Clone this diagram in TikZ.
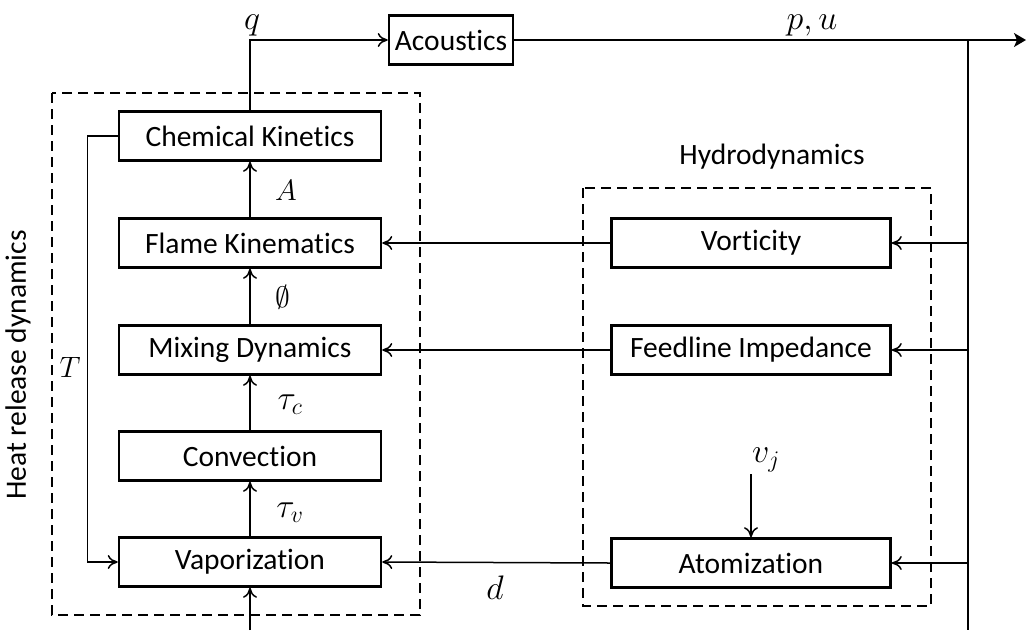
\RequirePackage{fix-cm}
\documentclass[tikz,border=0pt]{standalone}
\usepackage{fontspec}
\setmainfont{Carlito}[Ligatures={NoCommon,NoRare,NoContextual}]
\usetikzlibrary{arrows.meta}
\begin{document}
\begin{tikzpicture}[x=1pt,y=-1pt,
  box/.style={draw,line width=2.6pt,minimum width=262pt,minimum height=49pt,inner sep=0pt,font=\fontsize{29.5}{34}\selectfont},
  lbl/.style={font=\fontsize{29.5}{34}\selectfont,inner sep=0pt},
  mlbl/.style={font=\fontsize{34}{38}\selectfont,inner sep=0pt},
  conn/.style={line width=1.5pt},
  arr/.style={conn,-{Computer Modern Rightarrow[length=10pt,width=14pt]}},
  outarr/.style={conn,-{Stealth[length=12pt,width=14pt,inset=3pt]}},
  grp/.style={line width=1.5pt,dash pattern=on 10pt off 6pt}]
\useasboundingbox (0,0) rectangle (1027,630);
% group frames
\draw[grp] (52,93) rectangle (420,615);
\draw[grp] (583,188) rectangle (931,606);
\node[lbl,rotate=90] (hrd) at (18,365) {Heat release dynamics};
\node[lbl] (hyd) at (772,157) {Hydrodynamics};
% boxes
\node[box,minimum width=124pt] (ac) at (451,40) {Acoustics};
\node[box] (chem) at (250,136) {Chemical Kinetics};
\node[box] (flame) at (250,243) {Flame Kinematics};
\node[box] (mix) at (250,350) {Mixing Dynamics};
\node[box] (conv) at (250,456) {Convection};
\node[box] (vap) at (250,562) {Vaporization};
\node[box,minimum width=279pt] (vort) at (751,243) {Vorticity};
\node[box,minimum width=279pt] (feed) at (751,350) {Feedline Impedance};
\node[box,minimum width=279pt] (atom) at (751,563) {Atomization};
% coordinates
\coordinate (qc) at (250,40);
\coordinate (out) at (1026,40);
\coordinate (jtop) at (968,40);
\coordinate (jbot) at (968,630);
\coordinate (in) at (250,630);
\coordinate (vj) at (751,474);
% connectors
\draw[arr] (chem.north) -- (qc) -- (ac.west);
\draw[outarr] (ac.east) -- (out);
\draw[conn] (jtop) -- (jbot);
\draw[arr] (vort.east -| jtop) -- (vort.east);
\draw[arr] (feed.east -| jtop) -- (feed.east);
\draw[arr] (atom.east -| jtop) -- (atom.east);
\draw[arr] (vort.west) -- (flame.east);
\draw[arr] (feed.west) -- (mix.east);
\draw[arr] (atom.west) -- (vap.east);
\draw[arr] (vj) -- (atom.north);
\draw[arr] (chem.west) -- ++(-30,0) |- (vap.west);
\draw[arr] (in) -- (vap.south);
\draw[arr] (vap.north) -- (conv.south);
\draw[arr] (conv.north) -- (mix.south);
\draw[arr] (mix.north) -- (flame.south);
\draw[arr] (flame.north) -- (chem.south);
% labels
\node[mlbl,anchor=base] (lq) at (252,29) {$q$};
\node[mlbl,anchor=base] (lpu) at (812,29) {$p,u$};
\node[lbl] (lA) at (286,190) {$A$};
\node[lbl] (lphi) at (283,297) {$\emptyset$};
\node[mlbl] (ltc) at (290,405) {$\tau_c$};
\node[mlbl] (ltv) at (290,513) {$\tau_v$};
\node[lbl] (lT) at (70,367) {$T$};
\node[mlbl] (ld) at (495,588) {$d$};
\node[mlbl] (lvj) at (766,460) {$v_j$};
\end{tikzpicture}
\end{document}
